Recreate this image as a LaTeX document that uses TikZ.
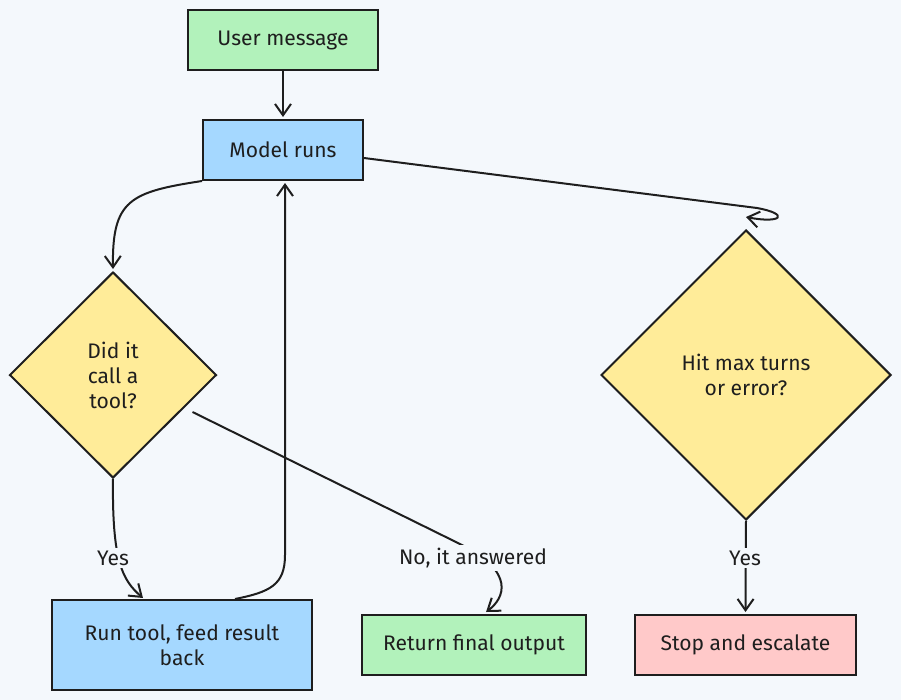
\documentclass[tikz,border=0pt]{standalone}
\usepackage{fontspec}
\setmainfont{Fira Sans}
\usetikzlibrary{shapes.geometric,arrows.meta,calc}
\definecolor{bgc}{HTML}{F4F8FC}
\definecolor{ink}{HTML}{1E1E1E}
\definecolor{gfill}{HTML}{B2F2BB}
\definecolor{bfill}{HTML}{A5D8FF}
\definecolor{yfill}{HTML}{FFEC99}
\definecolor{rfill}{HTML}{FFC9C9}
\begin{document}
\begin{tikzpicture}[x=0.75pt,y=-0.75pt,
  every node/.style={font=\fontsize{15.8}{18.75}\selectfont, text=ink},
  boxnode/.style={draw=ink, line width=1.5pt, rectangle, inner sep=0pt, align=center},
  decnode/.style={draw=ink, line width=1.5pt, diamond, inner sep=0pt, align=center, fill=yfill},
  lbl/.style={fill=bgc, inner sep=2pt},
  arr/.style={draw=ink, line width=1.5pt, -{Straight Barb[length=8.5pt,width=12pt]}},
  conn/.style={draw=ink, line width=1.5pt}]
\fill[bgc] (0,0) rectangle (901,700);
\useasboundingbox (0,0) rectangle (901,700);

\node[boxnode, fill=gfill, minimum width=142.5pt, minimum height=45pt] (user) at (283,40) {User message};
\node[boxnode, fill=bfill, minimum width=120pt, minimum height=45pt] (model) at (283,150) {Model runs};
\node[decnode, minimum width=155.25pt, minimum height=154.5pt] (d1) at (113,375) {Did it\\call a\\tool?};
\node[decnode, minimum width=217.5pt, minimum height=217.5pt] (d2) at (746,375) {Hit max turns\\or error?};
\node[boxnode, fill=bfill, minimum width=195pt, minimum height=67.5pt] (run) at (182,645) {Run tool, feed result\\back};
\node[boxnode, fill=gfill, minimum width=168pt, minimum height=45pt] (final) at (474,645) {Return final output};
\node[boxnode, fill=rfill, minimum width=165.75pt, minimum height=45pt] (stop) at (745.5,645) {Stop and escalate};

\coordinate (d2in) at ($(d2.north)+(0,-12)$);
\coordinate (mout) at ($(model.east)+(0,8)$);
\coordinate (runin) at ($(run.north)+(-39,-1)$);
\coordinate (runout) at ($(run.north)+(53,0)$);
\coordinate (d1out) at ($(d1.east)+(-25,37)$);
\coordinate (finalin) at ($(final.north)+(12,-2)$);
\coordinate (stopin) at ($(stop.north)+(0,-2)$);
\coordinate (modelin) at ($(model.south)+(2,2)$);

% user -> model
\draw[arr] (user.south) -- ($(model.north)+(0,-2)$);
% model -> d1
\draw[arr] (model.south west) .. controls (130,192) and (112,200) .. ($(d1.north)+(0,-2)$);
% model -> d2
\draw[arr] (mout) -- (757,208) .. controls (790,214) and (782,224) .. (d2in);
% d1 -> run (Yes)
\draw[arr] (d1.south) .. controls (112,560) and (122,580) .. (runin);
\node[lbl] (yes1) at (113,558) {Yes};
% run -> model
\draw[arr] (runout) .. controls (270,592) and (285,585) .. (285,555) -- (modelin);
% d1 -> final (No)
\draw[arr] (d1out) -- (462,545) .. controls (515,572) and (505,598) .. (finalin);
\node[lbl] (no1) at (473,558) {No, it answered};
% d2 -> stop (Yes)
\draw[arr] (d2.south) -- (stopin);
\node[lbl] (yes2) at (745,558) {Yes};
\end{tikzpicture}
\end{document}
